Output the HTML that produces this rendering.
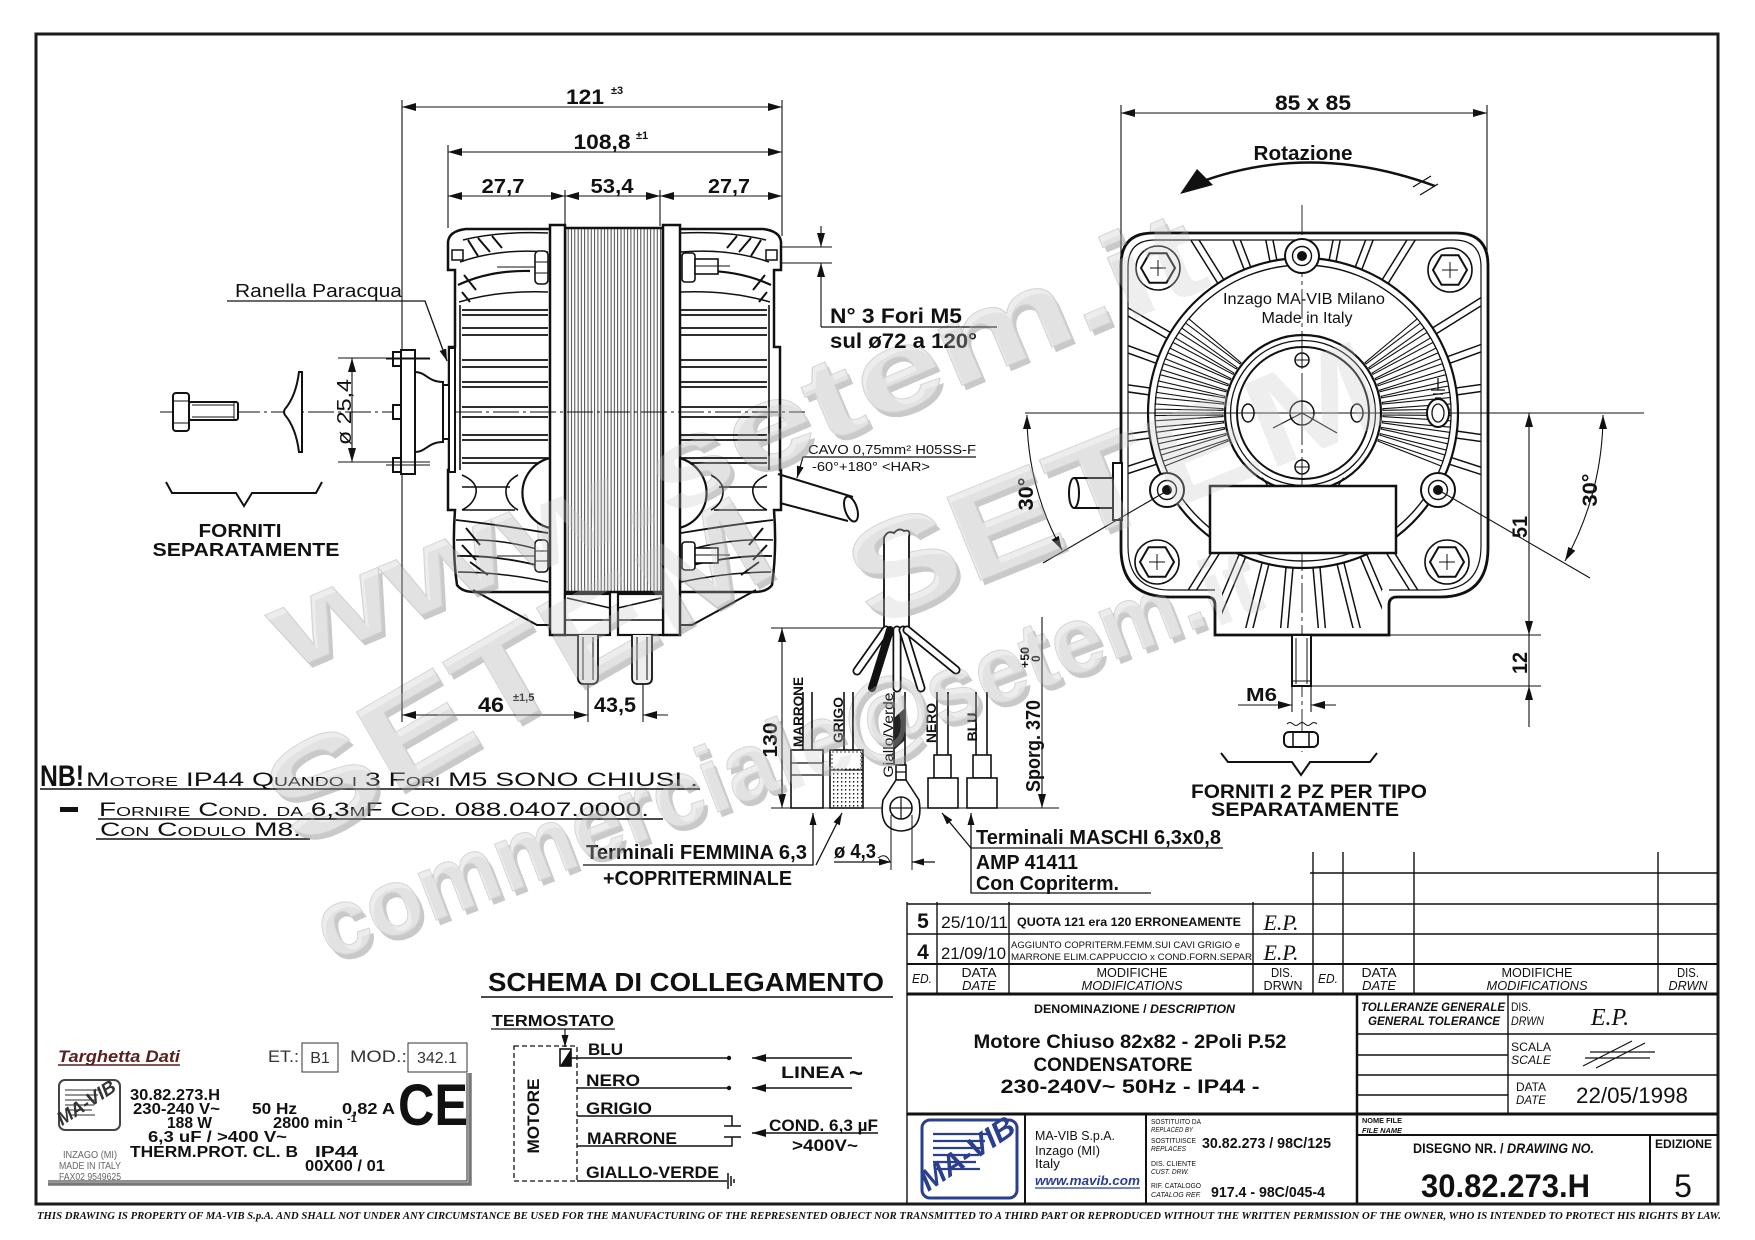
<!DOCTYPE html>
<html><head><meta charset="utf-8">
<style>
html,body{margin:0;padding:0;background:#fff;}
svg{display:block;}
text{font-family:"Liberation Sans",Arial,sans-serif;fill:#111;}
.b{font-weight:bold;}
.i{font-style:italic;}
.sc{font-variant:small-caps;}
</style></head><body>
<svg width="1755" height="1240" viewBox="0 0 1755 1240" xmlns="http://www.w3.org/2000/svg">
<defs>
<marker id="ar" markerUnits="userSpaceOnUse" markerWidth="14" markerHeight="8" refX="14" refY="4" orient="auto-start-reverse" viewBox="0 0 14 8"><path d="M0,0L14,4L0,8z" fill="#111"/></marker>
<marker id="as" markerUnits="userSpaceOnUse" markerWidth="12" markerHeight="7" refX="12" refY="3.5" orient="auto-start-reverse" viewBox="0 0 12 7"><path d="M0,0L12,3.5L0,7z" fill="#111"/></marker>
<pattern id="lam" width="3.3" height="20" patternUnits="userSpaceOnUse"><rect width="3.3" height="20" fill="#fff"/><line x1="0.6" y1="0" x2="0.6" y2="20" stroke="#333" stroke-width="0.9"/></pattern>
<pattern id="dots" width="4" height="4" patternUnits="userSpaceOnUse"><rect width="4" height="4" fill="#fff"/><rect x="1" y="1" width="1.3" height="1.6" fill="#222"/></pattern>
<clipPath id="bodyclip"><path d="M1155,240 H1454 Q1481,240 1481,267 V546 Q1481,590 1437,590 H1382 V628 H1222 V590 H1170 Q1128,590 1128,546 V267 Q1128,240 1155,240 Z"/></clipPath>
<polygon id="fi" points="1383,412.2 1451,410.4 1451,415.6 1383,413.8" fill="#fff" stroke="#111" stroke-width="1.1"/>
<rect id="fo" x="1448" y="409.5" width="100" height="7" rx="3" fill="#fff" stroke="#111" stroke-width="1.5"/>
<g id="hexb"><circle r="22" fill="#fff" stroke="#111" stroke-width="1.6"/><polygon points="17,0 8.5,-14.7 -8.5,-14.7 -17,0 -8.5,14.7 8.5,14.7" fill="#fff" stroke="#111" stroke-width="2"/><line x1="-8" y1="0" x2="8" y2="0" stroke="#111" stroke-width="1"/><line x1="0" y1="-8" x2="0" y2="8" stroke="#111" stroke-width="1"/></g>
<g id="boss"><circle r="17" fill="#fff" stroke="#111" stroke-width="2"/><circle r="9.5" fill="#fff" stroke="#111" stroke-width="1.4"/><circle r="5" fill="#111"/></g>
<g id="sh"><circle r="7" fill="#fff" stroke="#111" stroke-width="1.5"/><line x1="-7" y1="0" x2="7" y2="0" stroke="#111" stroke-width="1"/><line x1="0" y1="-7" x2="0" y2="7" stroke="#111" stroke-width="1"/></g>
<g id="capL" fill="none" stroke="#111">
 <path d="M550,229 L466,229 Q449,231 448,242 L448,270 L455,270 L455,347 L449,347 L449,470 L448,470 L448,510 L455,510 Q452,550 457,585 Q462,592 475,592 L550,592" stroke-width="2.5"/>
 <rect x="452" y="250" width="11" height="10" stroke-width="1.5"/>
 <path d="M463,240 Q500,231 548,233" stroke-width="1.5"/>
 <path d="M460,262 Q500,248 548,252" stroke-width="1.5"/>
 <path d="M458,285 Q490,270 530,271" stroke-width="2.2"/>
 <path d="M459,302 Q500,290 548,292" stroke-width="1.5"/>
 <path d="M468,240 L478,256 M478,238 L490,252 M492,236 L502,248 M464,275 L476,290 M462,292 L470,302" stroke-width="2"/>
 <line x1="460" y1="305" x2="460" y2="470" stroke-width="1.6"/>
 <path d="M462,310 H548 M462,315 H548 M462,328 H548 M462,335 H548 M462,360 H548 M462,367 H548 M462,382 H548 M462,387 H548 M462,407 H548 M462,417 H548 M462,435 H548 M462,440 H548 M462,458 H548 M462,463 H548" stroke-width="1.8"/>
 <path d="M550,458 A36,36 0 0 0 550,528" stroke-width="2.2" fill="#fff"/>
 <path d="M462,475 Q478,482 476,493 Q474,504 462,510 M518,475 Q505,482 506,493 Q507,504 518,510 M462,487 H510 M462,510 H515" stroke-width="1.6"/>
 <path d="M456,520 Q500,525 548,533" stroke-width="1.8"/>
 <path d="M456,540 Q500,538 540,550" stroke-width="1.5"/>
 <path d="M457,556 Q500,555 548,568" stroke-width="1.8"/>
 <path d="M458,572 Q500,572 548,582" stroke-width="1.5"/>
 <path d="M462,545 L476,560 M466,528 L480,545 M470,562 L488,575" stroke-width="2"/>
 <path d="M473,590 L537,625 L550,625" stroke-width="2"/>
</g>
<g id="wmshadow" font-weight="bold">
  <text transform="translate(293,676) rotate(-23)" font-size="115" textLength="1000" lengthAdjust="spacingAndGlyphs" style="fill:#c9c9c9">www.setem.it</text>
  <text transform="translate(302,854) rotate(-30)" font-size="130" textLength="560" lengthAdjust="spacingAndGlyphs" style="fill:#c9c9c9">SETEM</text>
  <text transform="translate(874,630) rotate(-22)" font-size="130" textLength="560" lengthAdjust="spacingAndGlyphs" style="fill:#c9c9c9">SETEM</text>
  <text transform="translate(334,966) rotate(-21)" font-size="95" textLength="1000" lengthAdjust="spacingAndGlyphs" style="fill:#c9c9c9">commerciale@setem.it</text>
</g>
</defs>
<rect width="1755" height="1240" fill="#fff"/>

<!-- ===== WATERMARK (behind drawing) ===== -->
<use href="#wmshadow"/>
<g font-weight="bold">
  <text transform="translate(289,671) rotate(-23)" font-size="115" textLength="1000" lengthAdjust="spacingAndGlyphs" style="fill:#ededed;stroke:#d6d6d6;stroke-width:1">www.setem.it</text>
  <text transform="translate(298,849) rotate(-30)" font-size="130" textLength="560" lengthAdjust="spacingAndGlyphs" style="fill:#ededed;stroke:#d6d6d6;stroke-width:1">SETEM</text>
  <text transform="translate(870,625) rotate(-22)" font-size="130" textLength="560" lengthAdjust="spacingAndGlyphs" style="fill:#ededed;stroke:#d6d6d6;stroke-width:1">SETEM</text>
  <text transform="translate(330,961) rotate(-21)" font-size="95" textLength="1000" lengthAdjust="spacingAndGlyphs" style="fill:#ededed;stroke:#d6d6d6;stroke-width:1">commerciale@setem.it</text>
</g>

<!-- FRAME -->
<rect x="36" y="34" width="1682" height="1170" fill="none" stroke="#1a1a1a" stroke-width="3"/>
<text x="37" y="1219" font-size="10.5" font-style="italic" font-weight="bold" textLength="1684" lengthAdjust="spacingAndGlyphs" style="font-family:'Liberation Serif',serif">THIS DRAWING IS PROPERTY OF MA-VIB S.p.A. AND SHALL NOT UNDER ANY CIRCUMSTANCE BE USED FOR THE MANUFACTURING OF THE REPRESENTED OBJECT NOR TRANSMITTED TO A THIRD PART OR REPRODUCED WITHOUT THE WRITTEN PERMISSION OF THE OWNER, WHO IS INTENDED TO PROTECT HIS RIGHTS BY LAW.</text>

<!-- ===== SIDE VIEW DIMENSIONS ===== -->
<g stroke="#111" stroke-width="1.1" fill="none">
 <line x1="402" y1="100" x2="402" y2="722"/>
 <line x1="448" y1="145" x2="448" y2="228"/>
 <line x1="565" y1="190" x2="565" y2="226"/>
 <line x1="660" y1="190" x2="660" y2="226"/>
 <line x1="782" y1="100" x2="782" y2="236"/>
 <line x1="402" y1="107" x2="782" y2="107" marker-start="url(#ar)" marker-end="url(#ar)"/>
 <line x1="448" y1="152" x2="782" y2="152" marker-start="url(#ar)" marker-end="url(#ar)"/>
 <line x1="448" y1="196" x2="565" y2="196" marker-start="url(#ar)" marker-end="url(#ar)"/>
 <line x1="565" y1="196" x2="660" y2="196" marker-start="url(#ar)" marker-end="url(#ar)"/>
 <line x1="660" y1="196" x2="782" y2="196" marker-start="url(#ar)" marker-end="url(#ar)"/>
</g>
<text x="585" y="104" font-size="21" class="b" text-anchor="middle" textLength="38" lengthAdjust="spacingAndGlyphs">121</text>
<text x="611" y="94" font-size="11" class="b">±3</text>
<text x="602" y="149" font-size="21" class="b" text-anchor="middle" textLength="57" lengthAdjust="spacingAndGlyphs">108,8</text>
<text x="636" y="139" font-size="11" class="b">±1</text>
<text x="503" y="193" font-size="20" class="b" text-anchor="middle" textLength="43" lengthAdjust="spacingAndGlyphs">27,7</text>
<text x="612" y="193" font-size="20" class="b" text-anchor="middle" textLength="43" lengthAdjust="spacingAndGlyphs">53,4</text>
<text x="729" y="193" font-size="20" class="b" text-anchor="middle" textLength="42" lengthAdjust="spacingAndGlyphs">27,7</text>

<!-- ===== SIDE VIEW MOTOR ===== -->
<use href="#capL"/>
<g transform="translate(1229,0) scale(-1,1)"><use href="#capL"/></g>
<rect x="565" y="228" width="98" height="364" fill="url(#lam)" stroke="#111" stroke-width="2.5"/>
<rect x="550" y="225" width="15" height="410" fill="#fff" stroke="#111" stroke-width="2.5"/>
<rect x="663" y="225" width="17" height="410" fill="#fff" stroke="#111" stroke-width="2.5"/>
<g fill="#fff" stroke="#111" stroke-width="2.2">
 <rect x="565" y="594" width="45" height="41"/>
 <rect x="618" y="594" width="45" height="41"/>
</g>
<g stroke="#111" stroke-width="1.6" fill="none">
 <path d="M567,598 L610,608 M565,620 H610 M661,598 L618,608 M618,620 H663"/>
</g>
<g fill="#eee" stroke="#111" stroke-width="1.8">
 <path d="M578,635 V678 Q578,684 584,684 H592 Q598,684 598,678 V635"/>
 <path d="M632,635 V678 Q632,684 638,684 H646 Q652,684 652,678 V635"/>
</g>
<g stroke="#111" stroke-width="1" fill="none"><path d="M583,637 V680 M593,637 V680 M637,637 V680 M647,637 V680"/></g>
<g fill="#fff" stroke="#111" stroke-width="1.6">
 <rect x="535" y="251" width="13" height="33" rx="4"/>
 <rect x="535" y="540" width="13" height="32" rx="4"/>
 <rect x="682" y="253" width="13" height="29" rx="3"/>
 <rect x="695" y="259" width="23" height="15"/>
 <rect x="682" y="542" width="13" height="28" rx="3"/>
 <rect x="695" y="548" width="23" height="15"/>
</g>
<g stroke="#111" stroke-width="0.9"><path d="M497,267 H535 M497,556 H535 M695,266 H730 M695,555 H730 M535,262 H548 M535,273 H548 M535,551 H548 M535,561 H548"/></g>
<line x1="160" y1="412" x2="805" y2="412" stroke="#111" stroke-width="0.9" stroke-dasharray="26 4 3 4"/>
<g fill="#fff" stroke="#111" stroke-width="2">
 <rect x="401" y="350" width="14" height="124"/>
 <rect x="393" y="352" width="8" height="14"/>
 <rect x="393" y="405" width="8" height="14"/>
 <rect x="393" y="458" width="8" height="14"/>
 <path d="M415,372 C426,372 428,382 443,382 L443,442 C428,442 426,452 415,452 Z"/>
 <rect x="443" y="385" width="6" height="54"/>
 <rect x="449" y="348" width="6" height="124"/>
</g>
<g stroke="#111" stroke-width="0.9"><path d="M386,359 H430 M386,465 H430"/></g>
<g stroke="#111" stroke-width="1.1" fill="none">
 <line x1="338" y1="358" x2="430" y2="358"/>
 <line x1="338" y1="462" x2="430" y2="462"/>
 <line x1="352" y1="358" x2="352" y2="462" marker-start="url(#ar)" marker-end="url(#ar)"/>
</g>
<text transform="translate(351,412) rotate(-90)" font-size="20" text-anchor="middle" textLength="66" lengthAdjust="spacingAndGlyphs">ø 25,4</text>
<g fill="#fff" stroke="#111" stroke-width="2">
 <rect x="189" y="402" width="49" height="18" rx="2"/>
 <rect x="173" y="393" width="16" height="38" rx="3"/>
 <path d="M299,372 Q296,396 285,409 Q283,412 285,415 Q296,428 299,452 L302,452 L302,372 Z"/>
</g>
<g stroke="#111" stroke-width="1" fill="none"><path d="M173,401 H189 M173,423 H189 M192,405 H234 M192,417 H234 M234,402 V420"/></g>
<polyline points="166,482 172,493 236,493 244,506 252,493 316,493 322,482" fill="none" stroke="#111" stroke-width="2"/>
<text x="240" y="537" font-size="18" class="b" text-anchor="middle" textLength="83" lengthAdjust="spacingAndGlyphs">FORNITI</text>
<text x="246" y="556" font-size="18" class="b" text-anchor="middle" textLength="187" lengthAdjust="spacingAndGlyphs">SEPARATAMENTE</text>
<text x="235" y="297" font-size="18" textLength="167" lengthAdjust="spacingAndGlyphs">Ranella Paracqua</text>
<polyline points="227,301 425,301 447,361" fill="none" stroke="#111" stroke-width="1.3" marker-end="url(#as)"/>
<g stroke="#111" stroke-width="1.1" fill="none">
 <line x1="781" y1="247" x2="832" y2="247"/>
 <line x1="781" y1="263" x2="832" y2="263"/>
 <line x1="821" y1="226" x2="821" y2="247" marker-end="url(#ar)"/>
 <line x1="821" y1="327" x2="821" y2="263" marker-end="url(#ar)"/>
 <line x1="821" y1="327" x2="997" y2="327" stroke-width="1.3"/>
</g>
<text x="830" y="323" font-size="21" class="b" textLength="132" lengthAdjust="spacingAndGlyphs">N° 3 Fori M5</text>
<text x="830" y="348" font-size="21" class="b" textLength="147" lengthAdjust="spacingAndGlyphs">sul ø72  a 120°</text>
<text x="808" y="454" font-size="13" textLength="168" lengthAdjust="spacingAndGlyphs">CAVO 0,75mm² H05SS-F</text>
<text x="812" y="471" font-size="13" textLength="118" lengthAdjust="spacingAndGlyphs">-60°+180° &lt;HAR&gt;</text>
<polyline points="976,457 803,457 797,478" fill="none" stroke="#111" stroke-width="1.2" marker-end="url(#as)"/>
<g stroke="#111" stroke-width="2" fill="none">
 <path d="M778,474 L853,497 M780,503 L848,521"/>
 <ellipse cx="851" cy="509" rx="6" ry="13" transform="rotate(-18 851 509)" fill="#fff"/>
</g>

<g stroke="#111" stroke-width="1.1" fill="none">
 <line x1="588" y1="684" x2="588" y2="722"/>
 <line x1="643" y1="684" x2="643" y2="722"/>
 <line x1="402" y1="715" x2="588" y2="715" marker-start="url(#ar)" marker-end="url(#ar)"/>
 <line x1="643" y1="715" x2="668" y2="715"/>
 <line x1="668" y1="715" x2="643" y2="715" marker-end="url(#ar)"/>
</g>
<text x="491" y="712" font-size="21" class="b" text-anchor="middle" textLength="26" lengthAdjust="spacingAndGlyphs">46</text>
<text x="513" y="701" font-size="11" class="b">±1,5</text>
<text x="615" y="712" font-size="21" class="b" text-anchor="middle" textLength="42" lengthAdjust="spacingAndGlyphs">43,5</text>

<!-- ===== WIRES / TERMINALS ===== -->
<g stroke="#111" stroke-width="1.8" fill="#fff">
 <path d="M884,628 V538 Q887,530 894,533 Q899,527 904,531 Q911,529 909,537 V628"/>
</g>
<g stroke-linecap="round">
 <line x1="886" y1="630" x2="857" y2="671" stroke="#111" stroke-width="9"/>
 <line x1="886" y1="630" x2="857" y2="671" stroke="#fff" stroke-width="5.5"/>
 <line x1="890" y1="630" x2="872" y2="688" stroke="#111" stroke-width="8"/>
 <line x1="897" y1="630" x2="897" y2="688" stroke="#111" stroke-width="9"/>
 <line x1="897" y1="630" x2="897" y2="688" stroke="#fff" stroke-width="5.5"/>
 <line x1="903" y1="630" x2="921" y2="688" stroke="#111" stroke-width="9"/>
 <line x1="903" y1="630" x2="921" y2="688" stroke="#fff" stroke-width="5.5"/>
 <line x1="907" y1="630" x2="956" y2="670" stroke="#111" stroke-width="9"/>
 <line x1="907" y1="630" x2="956" y2="670" stroke="#fff" stroke-width="5.5"/>
</g>
<g stroke="#111" stroke-width="1.1" fill="none">
 <line x1="771" y1="628" x2="884" y2="628"/>
 <line x1="771" y1="808" x2="1059" y2="808"/>
 <line x1="782" y1="628" x2="782" y2="808" marker-start="url(#ar)" marker-end="url(#ar)"/>
 <line x1="1042" y1="617" x2="1042" y2="808" marker-end="url(#ar)"/>
</g>
<text transform="translate(777,740) rotate(-90)" font-size="20" class="b" text-anchor="middle" textLength="35" lengthAdjust="spacingAndGlyphs">130</text>
<text transform="translate(1040,792) rotate(-90)" font-size="20" class="b" textLength="92" lengthAdjust="spacingAndGlyphs">Sporg. 370</text>
<text transform="translate(1029,668) rotate(-90)" font-size="12" class="b" textLength="21" lengthAdjust="spacingAndGlyphs">+50</text>
<text transform="translate(1040,662) rotate(-90)" font-size="12" class="b">0</text>
<g stroke="#111" stroke-width="1.6" fill="#fff">
 <path d="M803,692 V750 M812,692 V750 M844,692 V750 M853,692 V750 M894,692 V765 M905,692 V765 M937,692 V755 M948,692 V755 M976,692 V755 M987,692 V755" fill="none"/>
 <rect x="791" y="750" width="32" height="58"/>
 <rect x="830" y="750" width="33" height="58" fill="url(#dots)"/>
 <rect x="934" y="755" width="17" height="23"/>
 <rect x="928" y="778" width="30" height="30"/>
 <rect x="973" y="755" width="18" height="23"/>
 <rect x="967" y="778" width="30" height="30"/>
 <rect x="896" y="765" width="10" height="15"/>
 <path d="M896,780 L883,800 Q878,830 901,831 Q924,830 919,800 L906,780 Z"/>
 <circle cx="901" cy="808" r="11"/>
</g>
<g stroke="#111" stroke-width="1.2" fill="none">
 <path d="M791,763 H823 M791,775 H823 M830,770 H863 M890,808 H912 M901,797 V819 M896,772 H906"/>
</g>
<path d="M894,718 L905,708 L905,740 L894,750 Z" fill="#222"/>
<rect x="832" y="752" width="29" height="17" fill="#fff" stroke="#111" stroke-width="0.8" stroke-dasharray="2 2"/>
<text transform="translate(803,712) rotate(-90)" font-size="14" class="b" text-anchor="middle" textLength="70" lengthAdjust="spacingAndGlyphs">MARRONE</text>
<text transform="translate(843,720) rotate(-90)" font-size="14" class="b" text-anchor="middle" textLength="46" lengthAdjust="spacingAndGlyphs">GRIGO</text>
<text transform="translate(893,735) rotate(-90)" font-size="14" text-anchor="middle" textLength="85" lengthAdjust="spacingAndGlyphs">Giallo/Verde</text>
<text transform="translate(936,723) rotate(-90)" font-size="14" class="b" text-anchor="middle" textLength="40" lengthAdjust="spacingAndGlyphs">NERO</text>
<text transform="translate(977,727) rotate(-90)" font-size="14" class="b" text-anchor="middle" textLength="29" lengthAdjust="spacingAndGlyphs">BLU</text>
<g stroke="#111" stroke-width="1.3" fill="none">
 <polyline points="583,865 813,865 813,813" marker-end="url(#as)"/>
 <line x1="816" y1="865" x2="842" y2="813" marker-end="url(#as)"/>
 <line x1="834" y1="862" x2="891" y2="862" marker-end="url(#as)"/>
 <line x1="935" y1="862" x2="912" y2="862" marker-end="url(#as)"/>
 <line x1="891" y1="815" x2="891" y2="870" stroke-width="1"/>
 <line x1="912" y1="815" x2="912" y2="870" stroke-width="1"/>
 <path d="M878,858 Q886,852 890,862" stroke-width="1"/>
 <polyline points="1223,848 971,848 971,813" marker-end="url(#as)"/>
 <line x1="971" y1="848" x2="942" y2="813" marker-end="url(#as)"/>
 <polyline points="971,848 971,893 1151,893"/>
</g>
<text x="586" y="859" font-size="20" class="b" textLength="221" lengthAdjust="spacingAndGlyphs">Terminali FEMMINA 6,3</text>
<text x="603" y="885" font-size="20" class="b" textLength="189" lengthAdjust="spacingAndGlyphs">+COPRITERMINALE</text>
<text x="834" y="858" font-size="20" class="b" textLength="42" lengthAdjust="spacingAndGlyphs">ø 4,3</text>
<text x="976" y="844" font-size="20" class="b" textLength="245" lengthAdjust="spacingAndGlyphs">Terminali MASCHI 6,3x0,8</text>
<text x="976" y="869" font-size="20" class="b" textLength="102" lengthAdjust="spacingAndGlyphs">AMP 41411</text>
<text x="976" y="890" font-size="20" class="b" textLength="143" lengthAdjust="spacingAndGlyphs">Con Copriterm.</text>

<!-- ===== FRONT VIEW ===== -->
<g stroke="#111" stroke-width="1.1" fill="none">
 <line x1="1121" y1="105" x2="1121" y2="300"/>
 <line x1="1487" y1="105" x2="1487" y2="300"/>
 <line x1="1121" y1="113" x2="1487" y2="113" marker-start="url(#ar)" marker-end="url(#ar)"/>
</g>
<text x="1313" y="110" font-size="21" class="b" text-anchor="middle" textLength="76" lengthAdjust="spacingAndGlyphs">85 x 85</text>
<text x="1303" y="160" font-size="20" class="b" text-anchor="middle" textLength="99" lengthAdjust="spacingAndGlyphs">Rotazione</text>
<path d="M1195,184 Q1310,140 1435,186" fill="none" stroke="#111" stroke-width="2.5"/>
<polygon points="1180,194 1197,169 1213,185" fill="#111"/>
<path d="M1413,187 L1431,176 M1420,195 L1438,184" stroke="#111" stroke-width="1.3"/>
<path d="M1153,233 H1456 Q1488,233 1488,265 V548 Q1488,597 1440,597 H1397 Q1389,597 1389,605 V635 H1215 V605 Q1215,597 1207,597 H1170 Q1121,597 1121,548 V265 Q1121,233 1153,233 Z" fill="#fff"/>
<g clip-path="url(#bodyclip)">
 <use href="#fo" transform="rotate(-32 1303 413)"/>
 <use href="#fo" transform="rotate(-20 1303 413)"/>
 <use href="#fo" transform="rotate(-8 1303 413)"/>
 <use href="#fo" transform="rotate(8 1303 413)"/>
 <use href="#fo" transform="rotate(18 1303 413)"/>
 <use href="#fo" transform="rotate(58 1303 413)"/>
 <use href="#fo" transform="rotate(67 1303 413)"/>
 <use href="#fo" transform="rotate(76 1303 413)"/>
 <use href="#fo" transform="rotate(85 1303 413)"/>
 <use href="#fo" transform="rotate(95 1303 413)"/>
 <use href="#fo" transform="rotate(104 1303 413)"/>
 <use href="#fo" transform="rotate(113 1303 413)"/>
 <use href="#fo" transform="rotate(122 1303 413)"/>
 <use href="#fo" transform="rotate(162 1303 413)"/>
 <use href="#fo" transform="rotate(172 1303 413)"/>
 <use href="#fo" transform="rotate(188 1303 413)"/>
 <use href="#fo" transform="rotate(200 1303 413)"/>
 <use href="#fo" transform="rotate(-150 1303 413)"/>
 <use href="#fo" transform="rotate(-122 1303 413)"/>
 <use href="#fo" transform="rotate(-111 1303 413)"/>
 <use href="#fo" transform="rotate(-101 1303 413)"/>
 <use href="#fo" transform="rotate(-79 1303 413)"/>
 <use href="#fo" transform="rotate(-69 1303 413)"/>
 <use href="#fo" transform="rotate(-58 1303 413)"/>
</g>
<path d="M1153,233 H1456 Q1488,233 1488,265 V548 Q1488,597 1440,597 H1397 Q1389,597 1389,605 V635 H1215 V605 Q1215,597 1207,597 H1170 Q1121,597 1121,548 V265 Q1121,233 1153,233 Z" fill="none" stroke="#111" stroke-width="2.8"/>
<path d="M1215,590 H1170 Q1128,590 1128,546 V267 Q1128,240 1155,240 H1454 Q1481,240 1481,267 V546 Q1481,590 1437,590 H1389" fill="none" stroke="#111" stroke-width="1.2"/>
<circle cx="1303" cy="413" r="155" fill="#fff" stroke="#111" stroke-width="2.2"/>
<circle cx="1303" cy="413" r="148" fill="none" stroke="#111" stroke-width="1.4"/>
<g>
 <use href="#fi" transform="rotate(160 1303 413)"/><use href="#fi" transform="rotate(164.5 1303 413)"/><use href="#fi" transform="rotate(169 1303 413)"/><use href="#fi" transform="rotate(173.5 1303 413)"/><use href="#fi" transform="rotate(178 1303 413)"/><use href="#fi" transform="rotate(182.5 1303 413)"/><use href="#fi" transform="rotate(187 1303 413)"/><use href="#fi" transform="rotate(191.5 1303 413)"/><use href="#fi" transform="rotate(196 1303 413)"/><use href="#fi" transform="rotate(200.5 1303 413)"/><use href="#fi" transform="rotate(205 1303 413)"/><use href="#fi" transform="rotate(209.5 1303 413)"/><use href="#fi" transform="rotate(214 1303 413)"/><use href="#fi" transform="rotate(218.5 1303 413)"/>
 <use href="#fi" transform="rotate(-38.5 1303 413)"/><use href="#fi" transform="rotate(-34 1303 413)"/><use href="#fi" transform="rotate(-29.5 1303 413)"/><use href="#fi" transform="rotate(-25 1303 413)"/><use href="#fi" transform="rotate(-20.5 1303 413)"/><use href="#fi" transform="rotate(-16 1303 413)"/><use href="#fi" transform="rotate(-11.5 1303 413)"/><use href="#fi" transform="rotate(-7 1303 413)"/><use href="#fi" transform="rotate(-2.5 1303 413)"/><use href="#fi" transform="rotate(2 1303 413)"/><use href="#fi" transform="rotate(6.5 1303 413)"/><use href="#fi" transform="rotate(11 1303 413)"/><use href="#fi" transform="rotate(15.5 1303 413)"/><use href="#fi" transform="rotate(20 1303 413)"/>
</g>
<g fill="#fff" stroke="#111" stroke-width="2">
 <path d="M1113,478 H1074 M1113,508 H1074"/>
 <ellipse cx="1074" cy="493" rx="5" ry="15"/>
 <rect x="1113" y="463" width="9" height="57"/>
</g>
<circle cx="1303" cy="413" r="78" fill="#fff" stroke="#111" stroke-width="2.2"/>
<circle cx="1303" cy="413" r="72.5" fill="none" stroke="#111" stroke-width="1.3"/>
<circle cx="1303" cy="413" r="66" fill="none" stroke="#111" stroke-width="2"/>
<g stroke="#111" stroke-width="0.9" fill="none">
 <line x1="1025" y1="413" x2="1644" y2="413"/>
 <line x1="1302" y1="205" x2="1302" y2="752" stroke-dasharray="30 4 4 4"/>
</g>
<use href="#sh" x="1302" y="360"/>
<use href="#sh" x="1302" y="467"/>
<g fill="#fff" stroke="#111" stroke-width="1.5">
 <ellipse cx="1248" cy="413" rx="6" ry="9"/>
 <ellipse cx="1357" cy="413" rx="6" ry="9"/>
 <circle cx="1302" cy="413" r="12"/>
</g>
<g stroke="#111" stroke-width="1.1"><path d="M1242,413 H1254 M1351,413 H1363 M1290,413 H1314 M1302,413 L1273,428 M1302,413 L1337,433 M1302,401 V425"/></g>
<ellipse cx="1438" cy="413" rx="11" ry="14" fill="#fff" stroke="#111" stroke-width="2"/>
<ellipse cx="1438" cy="413" rx="6" ry="9" fill="none" stroke="#111" stroke-width="1.3"/>
<g stroke="#111" stroke-width="1.3"><path d="M1438,378 V390 M1431,390 H1445 M1433,394 H1443 M1435,398 H1441"/></g>
<use href="#boss" x="1302" y="256"/>
<use href="#boss" x="1167" y="490"/>
<use href="#boss" x="1438" y="490"/>
<use href="#hexb" x="1158" y="268"/>
<use href="#hexb" x="1450" y="270"/>
<use href="#hexb" x="1157" y="562"/>
<use href="#hexb" x="1447" y="562"/>
<rect x="1210" y="486" width="186" height="67" fill="#fff" stroke="#111" stroke-width="2.5"/>
<path d="M1262,478 Q1268,484 1267,486 M1344,478 Q1338,484 1339,486" stroke="#111" stroke-width="1.6" fill="none"/>
<text x="1304" y="304" font-size="15.5" text-anchor="middle" textLength="162" lengthAdjust="spacingAndGlyphs">Inzago MA-VIB Milano</text>
<text x="1307" y="323" font-size="15.5" text-anchor="middle" textLength="91" lengthAdjust="spacingAndGlyphs">Made in Italy</text>
<g stroke="#111" stroke-width="1.1" fill="none">
 <path d="M1027,415 A277,277 0 0 0 1062,550" marker-start="url(#ar)" marker-end="url(#ar)"/>
 <line x1="1165" y1="492" x2="1043" y2="563"/>
 <path d="M1603,415 A300,300 0 0 1 1565,561" marker-start="url(#ar)" marker-end="url(#ar)"/>
 <line x1="1440" y1="491" x2="1590" y2="578"/>
 <line x1="1389" y1="635" x2="1541" y2="635"/>
 <line x1="1311" y1="686" x2="1541" y2="686"/>
 <line x1="1529" y1="413" x2="1529" y2="635" marker-start="url(#ar)" marker-end="url(#ar)"/>
 <line x1="1529" y1="635" x2="1529" y2="686"/>
 <line x1="1529" y1="727" x2="1529" y2="686" marker-end="url(#ar)"/>
</g>
<text transform="translate(1033,494) rotate(-90)" font-size="21" class="b" text-anchor="middle" textLength="33" lengthAdjust="spacingAndGlyphs">30°</text>
<text transform="translate(1597,490) rotate(-90)" font-size="21" class="b" text-anchor="middle" textLength="33" lengthAdjust="spacingAndGlyphs">30°</text>
<text transform="translate(1527,527) rotate(-90)" font-size="21" class="b" text-anchor="middle" textLength="22" lengthAdjust="spacingAndGlyphs">51</text>
<text transform="translate(1527,663) rotate(-90)" font-size="21" class="b" text-anchor="middle" textLength="22" lengthAdjust="spacingAndGlyphs">12</text>
<rect x="1292" y="635" width="19" height="51" fill="#fff" stroke="#111" stroke-width="2"/>
<g stroke="#111" stroke-width="1"><path d="M1296,638 V684 M1307,638 V684 M1292,681 H1311"/></g>
<g stroke="#111" stroke-width="1.1" fill="none">
 <line x1="1292" y1="686" x2="1292" y2="712"/>
 <line x1="1311" y1="686" x2="1311" y2="712"/>
 <line x1="1238" y1="705" x2="1292" y2="705" marker-end="url(#ar)"/>
 <line x1="1336" y1="705" x2="1311" y2="705" marker-end="url(#ar)"/>
</g>
<text x="1246" y="701" font-size="18" class="b" textLength="31" lengthAdjust="spacingAndGlyphs">M6</text>
<rect x="1284" y="732" width="34" height="15" rx="5" fill="#fff" stroke="#111" stroke-width="2"/>
<path d="M1293,732 V747 M1309,732 V747" stroke="#111" stroke-width="1.5"/>
<path d="M1287,724 q3,-3 6,0 q3,3 6,0 q3,-3 6,0 q3,3 6,0 q3,-3 6,0" fill="none" stroke="#111" stroke-width="1"/>
<polyline points="1221,753 1228,762 1292,762 1301,775 1310,762 1370,762 1377,753" fill="none" stroke="#111" stroke-width="2"/>
<text x="1309" y="798" font-size="19" class="b" text-anchor="middle" textLength="236" lengthAdjust="spacingAndGlyphs">FORNITI 2 PZ PER TIPO</text>
<text x="1305" y="816" font-size="19" class="b" text-anchor="middle" textLength="188" lengthAdjust="spacingAndGlyphs">SEPARATAMENTE</text>

<!-- ===== NB ===== -->
<text x="40" y="786" font-size="30" class="b" textLength="44" lengthAdjust="spacingAndGlyphs">NB!</text>
<text x="86" y="786" font-size="19" class="sc" textLength="612" lengthAdjust="spacingAndGlyphs">Motore IP44 Quando i 3 Fori M5 SONO CHIUSI .</text>
<line x1="40" y1="789" x2="700" y2="789" stroke="#111" stroke-width="1.6"/>
<rect x="60" y="807" width="18" height="5" fill="#111"/>
<text x="99" y="816" font-size="19" class="sc" textLength="550" lengthAdjust="spacingAndGlyphs">Fornire Cond. da 6,3µF Cod. 088.0407.0000.</text>
<line x1="98" y1="819" x2="663" y2="819" stroke="#111" stroke-width="1.6"/>
<text x="100" y="836" font-size="19" class="sc" textLength="201" lengthAdjust="spacingAndGlyphs">Con Codulo M8.</text>
<line x1="96" y1="839" x2="310" y2="839" stroke="#111" stroke-width="1.6"/>

<!-- ===== SCHEMA ===== -->
<text x="488" y="991" font-size="26" class="b" textLength="396" lengthAdjust="spacingAndGlyphs">SCHEMA  DI  COLLEGAMENTO</text>
<line x1="481" y1="997" x2="893" y2="997" stroke="#111" stroke-width="1.5"/>
<text x="492" y="1026" font-size="16" class="b" textLength="122" lengthAdjust="spacingAndGlyphs">TERMOSTATO</text>
<line x1="491" y1="1029" x2="615" y2="1029" stroke="#111" stroke-width="1.3"/>
<line x1="565" y1="1029" x2="565" y2="1047" stroke="#111" stroke-width="1.2" marker-end="url(#as)"/>
<rect x="514" y="1046" width="63" height="135" fill="none" stroke="#111" stroke-width="1.3" stroke-dasharray="5 3"/>
<rect x="560" y="1049" width="11" height="17" fill="#fff" stroke="#111" stroke-width="1.6"/>
<path d="M560,1066 L571,1049 L571,1066 Z" fill="#111"/>
<text transform="translate(539,1116) rotate(-90)" font-size="17" class="b" text-anchor="middle" textLength="75" lengthAdjust="spacingAndGlyphs">MOTORE</text>
<g stroke="#111" stroke-width="1.5" fill="none">
 <path d="M571,1058 H729 M577,1088 H729 M577,1116 H732 V1126 M577,1146 H732 V1137 M724,1126 H741 M724,1137 H741 M577,1181 H727 M728,1173 V1189 M731,1176 V1186 M734,1179 V1183"/>
 <line x1="852" y1="1058" x2="752" y2="1058" marker-end="url(#ar)"/>
 <line x1="852" y1="1088" x2="752" y2="1088" marker-end="url(#ar)"/>
 <line x1="878" y1="1133" x2="752" y2="1133" marker-end="url(#ar)"/>
</g>
<circle cx="729" cy="1058" r="2.2" fill="#111"/>
<circle cx="729" cy="1088" r="2.2" fill="#111"/>
<text x="588" y="1055" font-size="17" class="b" textLength="35" lengthAdjust="spacingAndGlyphs">BLU</text>
<text x="586" y="1086" font-size="17" class="b" textLength="54" lengthAdjust="spacingAndGlyphs">NERO</text>
<text x="586" y="1114" font-size="17" class="b" textLength="66" lengthAdjust="spacingAndGlyphs">GRIGIO</text>
<text x="587" y="1144" font-size="17" class="b" textLength="90" lengthAdjust="spacingAndGlyphs">MARRONE</text>
<text x="586" y="1178" font-size="17" class="b" textLength="133" lengthAdjust="spacingAndGlyphs">GIALLO-VERDE</text>
<text x="781" y="1078" font-size="17" class="b" textLength="64" lengthAdjust="spacingAndGlyphs">LINEA</text>
<text x="849" y="1081" font-size="24" class="b">~</text>
<text x="769" y="1131" font-size="17" class="b" textLength="109" lengthAdjust="spacingAndGlyphs">COND. 6,3 µF</text>
<text x="792" y="1151" font-size="17" class="b" textLength="66" lengthAdjust="spacingAndGlyphs">&gt;400V~</text>

<!-- ===== TARGHETTA ===== -->
<text x="58" y="1062" font-size="17" class="b i" textLength="122" lengthAdjust="spacingAndGlyphs" style="fill:#5a1f1f">Targhetta Dati</text>
<line x1="58" y1="1065" x2="180" y2="1065" stroke="#5a1f1f" stroke-width="1.6"/>
<text x="268" y="1062" font-size="17" textLength="31" lengthAdjust="spacingAndGlyphs" style="fill:#333">ET.:</text>
<rect x="302" y="1043" width="36" height="29" fill="none" stroke="#333" stroke-width="1"/>
<text x="320" y="1063" font-size="16" text-anchor="middle" style="fill:#333">B1</text>
<text x="350" y="1062" font-size="17" textLength="57" lengthAdjust="spacingAndGlyphs" style="fill:#333">MOD.:</text>
<rect x="408" y="1043" width="59" height="29" fill="none" stroke="#333" stroke-width="1"/>
<text x="437" y="1063" font-size="16" text-anchor="middle" style="fill:#333">342.1</text>
<path d="M470,1073 V1184 H48" fill="none" stroke="#777" stroke-width="3.5"/>
<path d="M467,1073 V1181 H48" fill="none" stroke="#222" stroke-width="1"/>
<rect x="59" y="1080" width="61" height="50" rx="6" fill="#fff" stroke="#444" stroke-width="2"/>
<g stroke="#555" stroke-width="1.2"><path d="M65,1090 H100 M65,1095 H98 M65,1100 H96 M65,1105 H94 M65,1110 H92 M70,1115 H95"/></g>
<text transform="translate(62,1126) rotate(-33)" font-size="19" class="b i" textLength="66" lengthAdjust="spacingAndGlyphs" style="fill:#333">MA-VIB</text>
<text x="90" y="1158" font-size="10" text-anchor="middle" textLength="54" lengthAdjust="spacingAndGlyphs" style="fill:#666">INZAGO (MI)</text>
<text x="90" y="1169" font-size="10" text-anchor="middle" textLength="62" lengthAdjust="spacingAndGlyphs" style="fill:#666">MADE IN ITALY</text>
<text x="90" y="1180" font-size="10" text-anchor="middle" textLength="62" lengthAdjust="spacingAndGlyphs" style="fill:#666">FAX02 9549625</text>
<text x="130" y="1100" font-size="16" class="b" textLength="90" lengthAdjust="spacingAndGlyphs">30.82.273.H</text>
<text x="133" y="1114" font-size="16" class="b" textLength="87" lengthAdjust="spacingAndGlyphs">230-240 V~</text>
<text x="252" y="1114" font-size="16" class="b" textLength="45" lengthAdjust="spacingAndGlyphs">50 Hz</text>
<text x="342" y="1114" font-size="16" class="b" textLength="53" lengthAdjust="spacingAndGlyphs">0,82 A</text>
<text x="167" y="1128" font-size="16" class="b" textLength="45" lengthAdjust="spacingAndGlyphs">188 W</text>
<text x="273" y="1128" font-size="16" class="b" textLength="70" lengthAdjust="spacingAndGlyphs">2800 min</text>
<text x="347" y="1122" font-size="11" class="b">-1</text>
<text x="148" y="1142" font-size="16" class="b" textLength="139" lengthAdjust="spacingAndGlyphs">6,3  uF /  &gt;400 V~</text>
<text x="130" y="1157" font-size="16" class="b" textLength="168" lengthAdjust="spacingAndGlyphs">THERM.PROT. CL. B</text>
<text x="315" y="1157" font-size="16" class="b" textLength="43" lengthAdjust="spacingAndGlyphs">IP44</text>
<text x="305" y="1171" font-size="16" class="b" textLength="80" lengthAdjust="spacingAndGlyphs">00X00 / 01</text>
<text x="398" y="1125" font-size="58" textLength="70" lengthAdjust="spacingAndGlyphs" style="font-weight:bold">CE</text>

<!-- ===== TITLE BLOCK ===== -->
<g stroke="#111" fill="none">
 <path d="M1313,852 V994 M1343,852 V994 M1414,852 V994 M1658,852 V994" stroke-width="1.4"/>
 <path d="M1310,873 H1718" stroke-width="1.6"/>
 <path d="M907,904 H1718 M907,934 H1718" stroke-width="1.4"/>
 <path d="M907,964 H1718" stroke-width="2"/>
 <path d="M907,994 H1718" stroke-width="3"/>
 <path d="M907,902 V1204 M937,902 V994 M1009,902 V994 M1253,902 V994" stroke-width="1.4"/>
 <path d="M1357,994 V1204" stroke-width="2.5"/>
 <path d="M1508,994 V1114" stroke-width="1.4"/>
 <path d="M1357,1034 H1718 M1357,1075 H1718 M1357,1055 H1508 M1357,1095 H1508" stroke-width="1.4"/>
 <path d="M907,1114 H1718" stroke-width="3"/>
 <path d="M1025,1114 V1204 M1146,1114 V1204" stroke-width="2"/>
 <path d="M1357,1135 H1718 M1650,1135 V1204" stroke-width="2"/>
</g>
<g font-size="13">
 <text x="923" y="928" font-size="21" class="b" text-anchor="middle">5</text>
 <text x="941" y="928" font-size="17" textLength="67" lengthAdjust="spacingAndGlyphs">25/10/11</text>
 <text x="1017" y="926" font-size="12" class="b" textLength="224" lengthAdjust="spacingAndGlyphs">QUOTA 121 era 120 ERRONEAMENTE</text>
 <text x="1281" y="930" font-size="22" text-anchor="middle" class="i" style="font-family:'Liberation Serif',serif">E.P.</text>
 <text x="923" y="959" font-size="21" class="b" text-anchor="middle">4</text>
 <text x="941" y="959" font-size="17" textLength="65" lengthAdjust="spacingAndGlyphs">21/09/10</text>
 <text x="1011" y="948" font-size="9" textLength="229" lengthAdjust="spacingAndGlyphs">AGGIUNTO COPRITERM.FEMM.SUI CAVI GRIGIO e</text>
 <text x="1011" y="960" font-size="9" textLength="241" lengthAdjust="spacingAndGlyphs">MARRONE ELIM.CAPPUCCIO x COND.FORN.SEPAR</text>
 <text x="1281" y="960" font-size="22" text-anchor="middle" class="i" style="font-family:'Liberation Serif',serif">E.P.</text>
 <text x="922" y="983" class="i" text-anchor="middle" textLength="20" lengthAdjust="spacingAndGlyphs">ED.</text>
 <text x="979" y="977" text-anchor="middle" textLength="35" lengthAdjust="spacingAndGlyphs">DATA</text>
 <text x="979" y="990" class="i" text-anchor="middle" textLength="34" lengthAdjust="spacingAndGlyphs">DATE</text>
 <text x="1132" y="977" text-anchor="middle" textLength="71" lengthAdjust="spacingAndGlyphs">MODIFICHE</text>
 <text x="1132" y="990" class="i" text-anchor="middle" textLength="101" lengthAdjust="spacingAndGlyphs">MODIFICATIONS</text>
 <text x="1282" y="977" text-anchor="middle" textLength="22" lengthAdjust="spacingAndGlyphs">DIS.</text>
 <text x="1283" y="990" text-anchor="middle" textLength="39" lengthAdjust="spacingAndGlyphs">DRWN</text>
 <text x="1328" y="983" class="i" text-anchor="middle" textLength="20" lengthAdjust="spacingAndGlyphs">ED.</text>
 <text x="1379" y="977" text-anchor="middle" textLength="35" lengthAdjust="spacingAndGlyphs">DATA</text>
 <text x="1379" y="990" class="i" text-anchor="middle" textLength="34" lengthAdjust="spacingAndGlyphs">DATE</text>
 <text x="1537" y="977" text-anchor="middle" textLength="71" lengthAdjust="spacingAndGlyphs">MODIFICHE</text>
 <text x="1537" y="990" class="i" text-anchor="middle" textLength="101" lengthAdjust="spacingAndGlyphs">MODIFICATIONS</text>
 <text x="1688" y="977" text-anchor="middle" textLength="22" lengthAdjust="spacingAndGlyphs">DIS.</text>
 <text x="1688" y="990" class="i" text-anchor="middle" textLength="39" lengthAdjust="spacingAndGlyphs">DRWN</text>
</g>
<text x="1034" y="1013" font-size="12" class="b" textLength="201" lengthAdjust="spacingAndGlyphs">DENOMINAZIONE / <tspan font-style="italic">DESCRIPTION</tspan></text>
<text x="1130" y="1048" font-size="19" class="b" text-anchor="middle" textLength="313" lengthAdjust="spacingAndGlyphs">Motore Chiuso 82x82  -  2Poli P.52</text>
<text x="1113" y="1071" font-size="19" class="b" text-anchor="middle" textLength="159" lengthAdjust="spacingAndGlyphs">CONDENSATORE</text>
<text x="1130" y="1093" font-size="19" class="b" text-anchor="middle" textLength="259" lengthAdjust="spacingAndGlyphs">230-240V~   50Hz    - IP44 -</text>
<text x="1361" y="1011" font-size="12" class="b i" textLength="144" lengthAdjust="spacingAndGlyphs">TOLLERANZE GENERALE</text>
<text x="1368" y="1025" font-size="12" class="b i" textLength="132" lengthAdjust="spacingAndGlyphs">GENERAL TOLERANCE</text>
<text x="1511" y="1011" font-size="12" textLength="20" lengthAdjust="spacingAndGlyphs">DIS.</text>
<text x="1511" y="1025" font-size="12" class="i" textLength="33" lengthAdjust="spacingAndGlyphs">DRWN</text>
<text x="1610" y="1025" font-size="24" text-anchor="middle" class="i" style="font-family:'Liberation Serif',serif">E.P.</text>
<text x="1511" y="1051" font-size="12" textLength="40" lengthAdjust="spacingAndGlyphs">SCALA</text>
<text x="1511" y="1064" font-size="12" class="i" textLength="40" lengthAdjust="spacingAndGlyphs">SCALE</text>
<g stroke="#111" stroke-width="1.2"><path d="M1583,1066 L1632,1041 M1596,1068 L1645,1043 M1590,1052 H1655 M1585,1058 H1650"/></g>
<text x="1516" y="1091" font-size="12" textLength="30" lengthAdjust="spacingAndGlyphs">DATA</text>
<text x="1516" y="1104" font-size="12" class="i" textLength="30" lengthAdjust="spacingAndGlyphs">DATE</text>
<text x="1576" y="1103" font-size="22" textLength="112" lengthAdjust="spacingAndGlyphs">22/05/1998</text>
<rect x="922" y="1120" width="95" height="78" rx="8" fill="none" stroke="#2b3f8f" stroke-width="3"/>
<g stroke="#2b3f8f" stroke-width="2.2"><path d="M933,1134 H988 M933,1141 H985 M933,1148 H982 M933,1155 H979 M933,1162 H976 M936,1169 H980"/></g>
<text transform="translate(928,1192) rotate(-34)" font-size="30" class="b i" textLength="108" lengthAdjust="spacingAndGlyphs" style="fill:#2b3f8f">MA-VIB</text>
<text x="1035" y="1140" font-size="13" textLength="80" lengthAdjust="spacingAndGlyphs">MA-VIB S.p.A.</text>
<text x="1035" y="1155" font-size="13" textLength="65" lengthAdjust="spacingAndGlyphs">Inzago (MI)</text>
<text x="1035" y="1168" font-size="13" textLength="25" lengthAdjust="spacingAndGlyphs">Italy</text>
<text x="1035" y="1185" font-size="13" class="b i" textLength="105" lengthAdjust="spacingAndGlyphs" style="fill:#2b3f8f">www.mavib.com</text>
<line x1="1035" y1="1188" x2="1140" y2="1188" stroke="#2b3f8f" stroke-width="1.2"/>
<g font-size="7">
 <text x="1151" y="1124" textLength="50" lengthAdjust="spacingAndGlyphs">SOSTITUITO DA</text>
 <text x="1151" y="1132" class="i" textLength="42" lengthAdjust="spacingAndGlyphs">REPLACED BY</text>
 <text x="1151" y="1143" textLength="45" lengthAdjust="spacingAndGlyphs">SOSTITUISCE</text>
 <text x="1151" y="1151" class="i" textLength="35" lengthAdjust="spacingAndGlyphs">REPLACES</text>
 <text x="1151" y="1166" textLength="45" lengthAdjust="spacingAndGlyphs">DIS. CLIENTE</text>
 <text x="1151" y="1174" class="i" textLength="38" lengthAdjust="spacingAndGlyphs">CUST. DRW.</text>
 <text x="1151" y="1188" textLength="50" lengthAdjust="spacingAndGlyphs">RIF. CATALOGO</text>
 <text x="1151" y="1197" class="i" textLength="50" lengthAdjust="spacingAndGlyphs">CATALOG REF.</text>
 <text x="1362" y="1123" class="b" textLength="40" lengthAdjust="spacingAndGlyphs">NOME FILE</text>
 <text x="1362" y="1133" class="b i" textLength="40" lengthAdjust="spacingAndGlyphs">FILE NAME</text>
</g>
<text x="1202" y="1148" font-size="15" class="b" textLength="129" lengthAdjust="spacingAndGlyphs">30.82.273 / 98C/125</text>
<text x="1211" y="1197" font-size="15" class="b" textLength="114" lengthAdjust="spacingAndGlyphs">917.4 - 98C/045-4</text>
<text x="1413" y="1153" font-size="14" class="b" textLength="181" lengthAdjust="spacingAndGlyphs">DISEGNO NR. / <tspan font-style="italic">DRAWING NO.</tspan></text>
<text x="1421" y="1197" font-size="32" class="b" textLength="169" lengthAdjust="spacingAndGlyphs">30.82.273.H</text>
<text x="1655" y="1148" font-size="12" class="b" textLength="57" lengthAdjust="spacingAndGlyphs">EDIZIONE</text>
<text x="1683" y="1197" font-size="32" text-anchor="middle">5</text>

<!-- faint watermark overlay on top -->
<use href="#wmshadow" opacity="0.3"/>
</svg>
</body></html>
